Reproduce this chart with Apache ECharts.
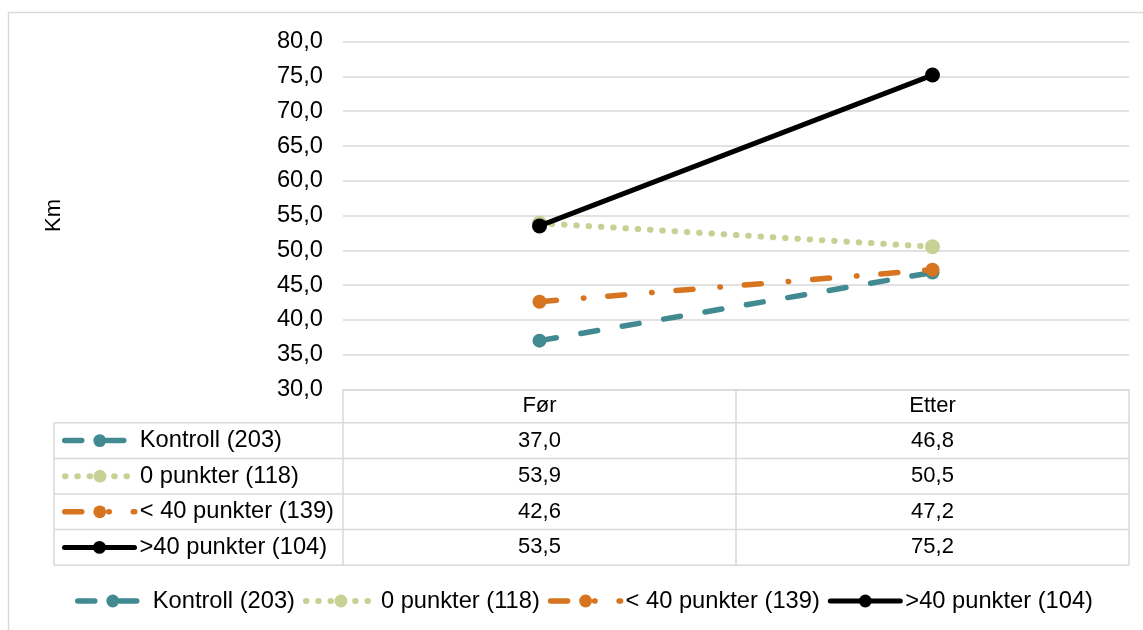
<!DOCTYPE html>
<html>
<head>
<meta charset="utf-8">
<script src="https://cdn.jsdelivr.net/npm/echarts@6/dist/echarts.min.js"></script>
<style>html,body{margin:0;padding:0;background:#fff}#c{width:1143px;height:630px}</style>
</head>
<body>
<div id="c"></div>
<script>
const categories = ['Før', 'Etter'];
const seriesNames = ['Kontroll (203)', '0 punkter (118)', '< 40 punkter (139)', '>40 punkter (104)'];
const kontroll = [37.0, 46.8];
const punkter0 = [53.9, 50.5];
const punkterUnder40 = [42.6, 47.2];
const punkterOver40 = [53.5, 75.2];
const yMin = 30, yMax = 80, yStep = 5;
const yTitle = 'Km';

const FONT = '"Liberation Sans", Arial, sans-serif';
const FS = 22;
const FS_BIG = 23.7;
const GRID = '#d9d9d9';
const fmt = v => v.toFixed(1).replace('.', ',');

const seriesData = [kontroll, punkter0, punkterUnder40, punkterOver40];
const styles = [
  { color: '#418A91', width: 5.5, type: [17, 25], cap: 'round', size: 14 },
  { color: '#C9D094', width: 6, type: [0.5, 11.8], cap: 'round', size: 15 },
  { color: '#D6741F', width: 5.5, type: [17, 27, 0.5, 24], cap: 'round', size: 14 },
  { color: '#000000', width: 5, type: 'solid', cap: 'round', size: 15 }
];

const chart = echarts.init(document.getElementById('c'), null, { renderer: 'canvas' });

const series = seriesNames.map((name, i) => ({
  name: name,
  type: 'line',
  data: seriesData[i],
  symbol: 'circle',
  symbolSize: styles[i].size,
  itemStyle: { color: styles[i].color },
  lineStyle: { color: styles[i].color, width: styles[i].width, type: styles[i].type, cap: styles[i].cap },
  emphasis: { disabled: true },
  z: 2 + i
}));

const legendItems = seriesNames.map((name, i) => ({
  name: name,
  itemStyle: { color: styles[i].color },
  lineStyle: { color: styles[i].color, width: styles[i].width, type: styles[i].type, cap: styles[i].cap }
}));

const baseLegend = {
  padding: 0,
  itemWidth: 70,
  itemHeight: 16,
  textStyle: { fontFamily: FONT, fontSize: FS_BIG, color: '#000', lineHeight: 24 },
  selectedMode: false
};

chart.setOption({
  animation: false,
  backgroundColor: '#fff',
  textStyle: { fontFamily: FONT },
  grid: { left: 343, right: 14, top: 41.7, bottom: 630 - 389.3, containLabel: false },
  xAxis: {
    type: 'category',
    data: categories,
    boundaryGap: true,
    axisLine: { show: true, lineStyle: { color: GRID, width: 1.5 } },
    axisTick: { show: false },
    axisLabel: { fontFamily: FONT, fontSize: FS, color: '#000', margin: 6 }
  },
  yAxis: {
    type: 'value',
    min: yMin, max: yMax, interval: yStep,
    name: yTitle,
    nameLocation: 'middle',
    nameRotate: 90,
    nameGap: 278,
    nameTextStyle: { fontFamily: FONT, fontSize: FS, color: '#000' },
    axisLine: { show: false },
    axisTick: { show: false },
    axisLabel: { fontFamily: FONT, fontSize: FS_BIG, color: '#000', margin: 20, formatter: v => fmt(v) },
    splitLine: { lineStyle: { color: GRID, width: 1.5 } }
  },
  legend: [],
  series: series
});

// Build the data table from the axes' own scales
const c0 = chart.convertToPixel({ xAxisIndex: 0 }, 0);
const c1 = chart.convertToPixel({ xAxisIndex: 0 }, 1);
const band = c1 - c0;
const gridLeft = c0 - band / 2;
const gridRight = c1 + band / 2;
const yTop = chart.convertToPixel({ yAxisIndex: 0 }, yMin);
const headerH = 33.5;
const rowH = 35.6;
const tableLeft = 54;
const tableBottom = yTop + headerH + rowH * seriesNames.length;

const graphics = [];
const lineStyleG = { stroke: GRID, lineWidth: 1.5 };
graphics.push({ type: 'rect', shape: { x: 8.5, y: 12.5, width: 1300, height: 800 }, style: { fill: 'none', stroke: GRID, lineWidth: 1.5 }, silent: true, z: 0 });
for (let r = 0; r <= seriesNames.length; r++) {
  const y = yTop + headerH + r * rowH;
  graphics.push({ type: 'line', shape: { x1: tableLeft, y1: y, x2: gridRight, y2: y }, style: lineStyleG, silent: true });
}
graphics.push({ type: 'line', shape: { x1: tableLeft, y1: yTop + headerH, x2: tableLeft, y2: tableBottom }, style: lineStyleG, silent: true });
[gridLeft, c0 + band / 2, gridRight].forEach(x => {
  graphics.push({ type: 'line', shape: { x1: x, y1: yTop, x2: x, y2: tableBottom }, style: lineStyleG, silent: true });
});
seriesData.forEach((arr, r) => {
  const yc = yTop + headerH + r * rowH + rowH / 2;
  arr.forEach((v, ci) => {
    const xc = chart.convertToPixel({ xAxisIndex: 0 }, ci);
    graphics.push({ type: 'text', x: xc, y: yc, style: { text: fmt(v), fontFamily: FONT, fontSize: FS, fill: '#000', align: 'center', verticalAlign: 'middle' }, silent: true });
  });
});

const legends = seriesNames.map((name, r) => Object.assign({}, baseLegend, {
  orient: 'vertical',
  left: 62,
  top: yTop + headerH + r * rowH + rowH / 2 - 12,
  data: [legendItems[r]]
}));
legends.push(Object.assign({}, baseLegend, {
  orient: 'horizontal',
  left: 75,
  top: 589,
  itemGap: 8,
  data: legendItems
}));

chart.setOption({ legend: legends, graphic: graphics });
</script>
</body>
</html>
